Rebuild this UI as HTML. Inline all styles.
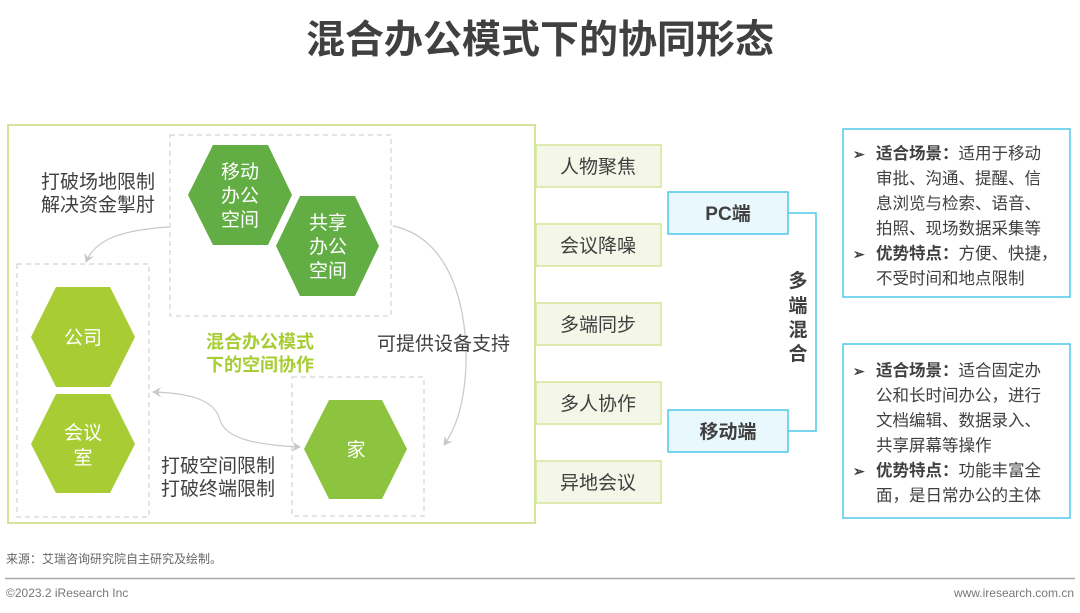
<!DOCTYPE html>
<html><head><meta charset="utf-8"><style>
html,body{margin:0;padding:0;background:#fff;}
svg{display:block;font-family:"Liberation Sans","Noto Sans CJK SC",sans-serif;}
</style></head><body>
<svg width="1080" height="613" viewBox="0 0 1080 613" xmlns="http://www.w3.org/2000/svg">
<defs>
<marker id="ah" markerWidth="10" markerHeight="10" refX="8" refY="5" orient="auto" markerUnits="userSpaceOnUse"><path d="M0,0 L9,5 L0,10 L3,5 Z" fill="#c8c8c8"/></marker>
<marker id="ahs" markerWidth="10" markerHeight="10" refX="1" refY="5" orient="auto" markerUnits="userSpaceOnUse"><path d="M9,0 L0,5 L9,10 L6,5 Z" fill="#c8c8c8"/></marker>
</defs>
<text x="540" y="53" text-anchor="middle" font-size="39" font-weight="bold" fill="#404040">混合办公模式下的协同形态</text>

<rect x="8" y="125" width="527" height="398" fill="#fff" stroke="#d3e59a" stroke-width="2"/>
<rect x="170" y="135" width="221" height="181" fill="none" stroke="#c8c8c8" stroke-dasharray="5,4"/>
<rect x="17" y="264" width="132" height="253" fill="none" stroke="#c8c8c8" stroke-dasharray="5,4"/>
<rect x="292" y="377" width="132" height="139" fill="none" stroke="#c8c8c8" stroke-dasharray="5,4"/>

<g font-size="19" fill="#fff" text-anchor="middle">
<polygon points="188,195 213,145 268,145 292,195 268,245 213,245" fill="#62ad44"/>
<text x="240" y="178">移动</text><text x="240" y="202">办公</text><text x="240" y="226">空间</text>
<polygon points="276,246 300,196 355,196 379,246 355,296 300,296" fill="#62ad44"/>
<text x="328" y="229">共享</text><text x="328" y="253">办公</text><text x="328" y="277">空间</text>
<polygon points="31,337 56,287 110,287 135,337 110,387 56,387" fill="#a8cc34"/>
<text x="83" y="344">公司</text>
<polygon points="31,444 56,394 110,394 135,444 110,493 56,493" fill="#a8cc34"/>
<text x="83" y="439">会议</text><text x="83" y="464">室</text>
<polygon points="304,449 329,400 382,400 407,449 382,499 329,499" fill="#8cc43f"/>
<text x="356" y="456">家</text>
</g>

<g fill="none" stroke="#c8c8c8" stroke-width="1.2">
<path d="M169,227 C120,230 95,240 86,262" marker-end="url(#ah)"/>
<path d="M393,226 C460,240 470,330 465,380 C462,410 455,430 444,445" marker-end="url(#ah)"/>
<path d="M153,392 C190,393 215,400 220,420 C226,440 260,445 300,447" marker-start="url(#ahs)" marker-end="url(#ah)"/>
</g>

<g font-size="19" fill="#404040">
<text x="41" y="188">打破场地限制</text>
<text x="41" y="211">解决资金掣肘</text>
<text x="377" y="350">可提供设备支持</text>
<text x="161" y="472">打破空间限制</text>
<text x="161" y="495">打破终端限制</text>
</g>
<g font-size="18" fill="#a8cc34" font-weight="bold">
<text x="206" y="348">混合办公模式</text>
<text x="206" y="371">下的空间协作</text>
</g>

<g font-size="19" fill="#404040" text-anchor="middle">
<rect x="536" y="145" width="125" height="42" fill="#f4f7e8" stroke="#d3e59a" stroke-width="1.5"/><text x="598" y="173">人物聚焦</text>
<rect x="536" y="224" width="125" height="42" fill="#f4f7e8" stroke="#d3e59a" stroke-width="1.5"/><text x="598" y="252">会议降噪</text>
<rect x="536" y="303" width="125" height="42" fill="#f4f7e8" stroke="#d3e59a" stroke-width="1.5"/><text x="598" y="331">多端同步</text>
<rect x="536" y="382" width="125" height="42" fill="#f4f7e8" stroke="#d3e59a" stroke-width="1.5"/><text x="598" y="410">多人协作</text>
<rect x="536" y="461" width="125" height="42" fill="#f4f7e8" stroke="#d3e59a" stroke-width="1.5"/><text x="598" y="489">异地会议</text>
</g>

<g font-size="19" font-weight="bold" fill="#404040" text-anchor="middle">
<rect x="668" y="192" width="120" height="42" fill="#e8f8fc" stroke="#4fc8e8" stroke-width="1.5"/><text x="728" y="220">PC端</text>
<rect x="668" y="410" width="120" height="42" fill="#e8f8fc" stroke="#4fc8e8" stroke-width="1.5"/><text x="728" y="438">移动端</text>
</g>
<path d="M788,213 H816 V431 H788" fill="none" stroke="#4fc8e8" stroke-width="1.5"/>
<g font-size="19" font-weight="bold" fill="#404040" text-anchor="middle">
<text x="798" y="287">多</text><text x="798" y="312">端</text><text x="798" y="336">混</text><text x="798" y="360">合</text>
</g>

<rect x="843" y="129" width="227" height="168" fill="#fff" stroke="#4fc8e8" stroke-width="1.5"/>
<rect x="843" y="344" width="227" height="174" fill="#fff" stroke="#4fc8e8" stroke-width="1.5"/>
<g font-size="16.5" fill="#404040">
<text x="853" y="159" font-size="14" font-weight="bold">➢</text>
<text x="876" y="159"><tspan font-weight="bold">适合场景：</tspan>适用于移动</text>
<text x="876" y="184">审批、沟通、提醒、信</text>
<text x="876" y="209">息浏览与检索、语音、</text>
<text x="876" y="234">拍照、现场数据采集等</text>
<text x="853" y="259" font-size="14" font-weight="bold">➢</text>
<text x="876" y="259"><tspan font-weight="bold">优势特点：</tspan>方便、快捷，</text>
<text x="876" y="284">不受时间和地点限制</text>

<text x="853" y="376" font-size="14" font-weight="bold">➢</text>
<text x="876" y="376"><tspan font-weight="bold">适合场景：</tspan>适合固定办</text>
<text x="876" y="401">公和长时间办公，进行</text>
<text x="876" y="426">文档编辑、数据录入、</text>
<text x="876" y="451">共享屏幕等操作</text>
<text x="853" y="476" font-size="14" font-weight="bold">➢</text>
<text x="876" y="476"><tspan font-weight="bold">优势特点：</tspan>功能丰富全</text>
<text x="876" y="501">面，是日常办公的主体</text>
</g>

<text x="6" y="563" font-size="12" fill="#666">来源：艾瑞咨询研究院自主研究及绘制。</text>
<line x1="5" y1="578.5" x2="1075" y2="578.5" stroke="#aaa" stroke-width="1.5"/>
<text x="6" y="597" font-size="12" fill="#777">©2023.2 iResearch Inc</text>
<text x="1074" y="597" font-size="12" fill="#777" text-anchor="end">www.iresearch.com.cn</text>
</svg>
</body></html>
